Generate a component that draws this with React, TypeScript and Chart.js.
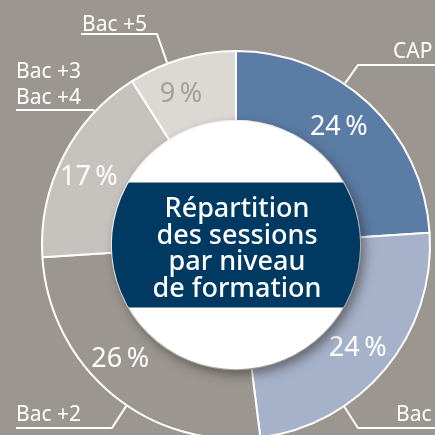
import React, { useEffect, useRef } from "react";
import { Chart, registerables } from "chart.js";

Chart.register(...registerables);

const categories = ["CAP", "Bac", "Bac +2", "Bac +3\nBac +4", "Bac +5"];
const shares = [24, 24, 26, 17, 9];
const sliceColors = ["#5b7ca5", "#a6b2ca", "#9b968f", "#c6c3be", "#dcd9d5"];
const percentColors = ["#ffffff", "#ffffff", "#ffffff", "#ffffff", "#a39f99"];
const titleLines = ["Répartition", "des sessions", "par niveau", "de formation"];

const BG = "#9b968f";
const NAVY = "#003a63";

// layout for the outside labels (pixel layout, not data)
const labelLayout = [
  { attachDeg: 34, elbow: [358, 65], end: [440, 65], textX: 393, textY: 58 },
  { attachDeg: 146.2, elbow: [358, 428], end: [440, 428], textX: 396, textY: 421 },
  { attachDeg: 214.3, elbow: [112, 428], end: [16, 428], textX: 16, textY: 421 },
  { attachDeg: 313.5, elbow: [93, 110], end: [16, 110], textX: 16, textY: 104 },
  { attachDeg: 339.3, elbow: [157, 34], end: [81, 34], textX: 82, textY: 31 },
];
const percentAngleOffsetDeg = [-2.6, 0, 6.4, -1.5, -3.5];
const percentRadius = [158, 158, 161, 163, 163];

const overlayPlugin = {
  id: "overlay",
  afterDatasetsDraw(chart: any) {
    const ctx: CanvasRenderingContext2D = chart.ctx;
    const meta = chart.getDatasetMeta(0);
    const arcs = meta.data as any[];
    if (!arcs.length) return;
    const cx = arcs[0].x;
    const cy = arcs[0].y;
    const R = arcs[0].outerRadius;
    const r = arcs[0].innerRadius;

    // percentages
    ctx.save();
    ctx.textAlign = "center";
    ctx.textBaseline = "alphabetic";
    ctx.font = "400 27px 'Noto Sans', sans-serif";
    arcs.forEach((a, i) => {
      const mid = (a.startAngle + a.endAngle) / 2 + (percentAngleOffsetDeg[i] * Math.PI) / 180;
      const x = cx + Math.cos(mid) * percentRadius[i];
      const y = cy + Math.sin(mid) * percentRadius[i];
      ctx.fillStyle = percentColors[i];
      ctx.fillText(`${shares[i]}\u202F%`, x, y + 10);
    });
    ctx.restore();

    // center white disc with shadow
    ctx.save();
    ctx.shadowColor = "rgba(40,35,30,0.55)";
    ctx.shadowBlur = 12;
    ctx.shadowOffsetX = 4;
    ctx.shadowOffsetY = 5;
    ctx.beginPath();
    ctx.arc(cx, cy, r, 0, Math.PI * 2);
    ctx.fillStyle = "#ffffff";
    ctx.fill();
    ctx.restore();

    // navy band
    ctx.save();
    ctx.beginPath();
    ctx.arc(cx, cy, r, 0, Math.PI * 2);
    ctx.clip();
    ctx.fillStyle = NAVY;
    ctx.fillRect(cx - r, cy - 62.5, 2 * r, 125);
    ctx.fillStyle = "#ffffff";
    ctx.textAlign = "center";
    ctx.font = "500 27px 'Noto Sans', sans-serif";
    const lh = 26.7;
    titleLines.forEach((t, i) => {
      ctx.fillText(t, cx + 1, cy - 28 + i * lh);
    });
    ctx.restore();

    // outside labels with leader lines
    ctx.save();
    ctx.strokeStyle = "#ffffff";
    ctx.lineWidth = 2;
    ctx.fillStyle = "#ffffff";
    ctx.font = "400 21px 'Noto Sans', sans-serif";
    ctx.textAlign = "left";
    categories.forEach((c, i) => {
      const L = labelLayout[i];
      const ang = (L.attachDeg * Math.PI) / 180 - Math.PI / 2;
      const ax = cx + Math.cos(ang) * (R + 1);
      const ay = cy + Math.sin(ang) * (R + 1);
      ctx.beginPath();
      ctx.moveTo(ax, ay);
      ctx.lineTo(L.elbow[0], L.elbow[1]);
      ctx.lineTo(L.end[0], L.end[1]);
      ctx.stroke();
      const lines = c.split("\n");
      lines.forEach((ln, j) => {
        ctx.fillText(ln, L.textX, L.textY - (lines.length - 1 - j) * 26);
      });
    });
    ctx.restore();
  },
};

export default function App() {
  const ref = useRef<HTMLCanvasElement>(null);
  useEffect(() => {
    document.body.style.margin = "0";
    const chart = new Chart(ref.current!, {
      type: "doughnut",
      data: {
        labels: categories,
        datasets: [
          {
            data: shares,
            backgroundColor: sliceColors,
            borderColor: "#ffffff",
            borderWidth: 2,
          },
        ],
      },
      options: {
        responsive: false,
        animation: false,
        devicePixelRatio: 1,
        cutout: "64%",
        layout: { padding: { left: 41, right: 4, top: 50, bottom: 10 } },
        plugins: { legend: { display: false }, tooltip: { enabled: false } },
        events: [],
      },
      plugins: [overlayPlugin],
    });
    return () => chart.destroy();
  }, []);
  return (
    <div
      style={{
        position: "fixed",
        left: 0,
        top: 0,
        width: 435,
        height: 435,
        overflow: "hidden",
        background: BG,
      }}
    >
      <canvas ref={ref} width={435} height={450} style={{ display: "block", width: 435, height: 450 }} />
    </div>
  );
}
